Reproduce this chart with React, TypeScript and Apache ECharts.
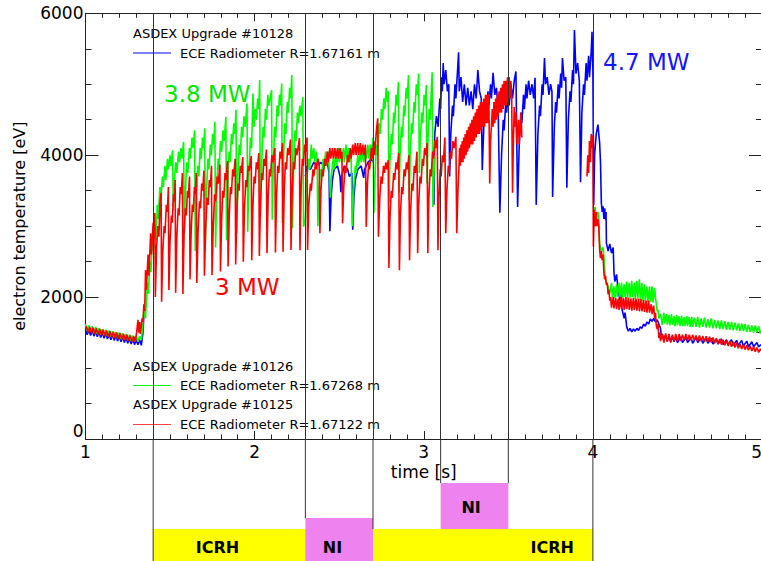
import React, { useEffect, useRef } from "react";
import * as echarts from "echarts";

type Pt = [number, number | string];

// ---------- data ----------
// ASDEX Upgrade #10128 (blue, 4.7 MW phase)
const shot10128: Pt[] = [
  [1.00,1560],[1.01,1470],[1.02,1540],[1.03,1460],[1.04,1530],[1.05,1450],[1.06,1520],[1.07,1440],[1.08,1510],[1.09,1430],
  [1.10,1500],[1.11,1420],[1.12,1490],[1.13,1410],[1.14,1480],[1.15,1400],[1.16,1470],[1.17,1390],[1.18,1460],[1.19,1380],
  [1.20,1450],[1.21,1370],[1.22,1440],[1.23,1360],[1.24,1430],[1.25,1350],[1.26,1420],[1.27,1340],[1.28,1410],[1.29,1330],
  [1.30,1400],[1.31,1330],[1.32,1400],[1.33,1320],[1.34,1500],[1.345,1750],[1.35,"-"],
  [2.30,3700],[2.31,3850],[2.33,3800],[2.35,3900],[2.37,3850],[2.39,3900],[2.41,3850],[2.43,3900],[2.44,3750],[2.445,2930],
  [2.452,3400],[2.46,3650],[2.47,3800],[2.49,3850],[2.505,3700],[2.51,3480],[2.515,3700],[2.53,3850],[2.55,3800],[2.56,3700],
  [2.575,3750],[2.58,2950],[2.587,3400],[2.595,3650],[2.61,3800],[2.63,3850],[2.645,3680],[2.65,3800],[2.67,3900],[2.69,3950],
  [2.70,3900],[2.71,"-"],
  [3.06,3300],[3.065,4300],[3.075,4550],[3.085,4400],[3.095,4800],[3.10,4650],[3.105,5100],[3.11,4900],[3.115,5300],[3.12,5000],
  [3.13,5200],[3.14,4900],[3.148,5000],[3.153,3700],[3.16,4300],[3.17,4700],[3.175,4550],[3.185,5000],[3.19,4800],[3.20,5200],
  [3.206,5450],[3.21,4900],[3.22,5100],[3.23,4750],[3.24,5000],[3.25,4700],[3.26,4950],[3.27,4700],[3.28,4900],[3.29,4650],
  [3.30,5000],[3.31,4800],[3.32,5200],[3.33,4900],[3.34,4800],[3.346,3790],[3.355,4400],[3.365,4750],[3.37,4600],[3.38,4900],
  [3.385,4700],[3.395,5000],[3.40,4800],[3.41,5160],[3.42,4850],[3.43,4950],[3.44,4650],[3.45,3190],[3.46,4000],[3.47,4500],
  [3.475,4350],[3.485,4750],[3.49,4600],[3.50,4900],[3.505,4700],[3.515,5000],[3.525,4800],[3.535,5050],[3.545,5180],[3.555,3270],
  [3.565,4200],[3.575,4600],[3.58,4450],[3.59,4850],[3.595,4650],[3.605,5000],[3.61,4800],[3.62,5050],[3.63,4850],[3.64,5000],
  [3.65,4800],[3.658,5090],[3.665,3300],[3.675,4300],[3.685,4700],[3.69,4550],[3.70,5000],[3.705,4850],[3.714,5370],[3.72,5000],
  [3.73,5100],[3.74,4850],[3.75,5000],[3.758,4900],[3.762,3410],[3.772,4400],[3.78,4750],[3.785,4600],[3.795,5000],[3.80,4800],
  [3.81,5150],[3.815,4950],[3.82,5370],[3.83,5050],[3.84,5100],[3.846,3540],[3.855,4500],[3.865,4900],[3.87,4750],[3.88,5200],
  [3.885,5000],[3.891,5765],[3.90,5150],[3.91,5300],[3.92,5050],[3.927,3620],[3.935,4600],[3.945,5000],[3.95,4850],[3.96,5300],
  [3.965,5050],[3.975,5400],[3.98,5100],[3.99,5450],[3.995,5740],[4.00,5200],
  [4.005,3300],[4.01,4000],[4.02,4300],[4.03,4430],[4.035,4300],[4.04,4170],[4.045,3900],[4.05,3330],[4.055,3200],[4.06,3280],
  [4.065,3100],[4.07,3250],[4.075,3090],[4.078,3200],[4.08,2760],[4.09,2650],[4.10,2750],[4.11,2620],[4.12,2700],[4.125,2340],
  [4.13,2220],[4.14,2320],[4.145,2200],[4.15,2100],[4.16,1950],[4.165,2050],[4.17,1860],[4.175,1800],[4.185,1700],[4.19,1780],
  [4.195,1690],[4.20,1580],[4.21,1520],[4.22,1560],[4.23,1510],[4.24,1550],[4.25,1520],[4.26,1560],[4.27,1530],[4.28,1580],
  [4.29,1560],[4.30,1620],[4.31,1590],[4.32,1650],[4.33,1620],[4.34,1690],[4.35,1660],[4.36,1700],[4.37,1650],[4.38,1680],
  [4.39,1620],[4.40,1560],[4.405,1420],[4.41,1480],[4.42,1400],[4.43,1460],[4.44,1380],[4.45,1450],[4.46,1370],[4.47,1440],
  [4.48,1370],[4.49,1440],[4.50,1360],[4.52,1440],[4.53,1360],[4.55,1430],[4.56,1360],[4.58,1430],[4.59,1350],[4.61,1430],
  [4.62,1360],[4.64,1420],[4.65,1350],[4.67,1420],[4.68,1350],[4.70,1420],[4.71,1340],[4.73,1410],[4.74,1340],[4.76,1410],
  [4.77,1330],[4.79,1400],[4.80,1330],[4.82,1400],[4.83,1320],[4.85,1390],[4.86,1320],[4.88,1390],[4.89,1310],[4.91,1380],
  [4.92,1300],[4.94,1370],[4.95,1300],[4.97,1360],[4.98,1300],[5.00,1340],
];

// ASDEX Upgrade #10126 (green, 3.8 MW)
const shot10126: Pt[] = [
  [1.00,1620],[1.01,1520],[1.02,1600],[1.03,1510],[1.04,1590],[1.05,1490],[1.06,1580],[1.07,1480],[1.08,1560],[1.09,1470],
  [1.10,1550],[1.11,1460],[1.12,1540],[1.13,1450],[1.14,1530],[1.15,1440],[1.16,1520],[1.17,1430],[1.18,1510],[1.19,1420],
  [1.20,1500],[1.21,1410],[1.22,1490],[1.23,1400],[1.24,1480],[1.25,1390],[1.26,1470],[1.27,1380],[1.28,1460],[1.29,1380],
  [1.30,1460],[1.31,1370],[1.32,1450],[1.33,1400],
  [1.335,1500],[1.345,1800],[1.355,1700],[1.365,2200],[1.372,2050],[1.38,2500],[1.387,2350],[1.395,2800],[1.40,2650],[1.41,3000],
  [1.415,2800],[1.425,3300],[1.43,3100],[1.44,3550],[1.445,3350],[1.455,3700],[1.46,3550],[1.47,3850],[1.475,3650],[1.485,3950],
  [1.49,3800],[1.50,4000],[1.505,3850],[1.515,4070],
  [1.519,3230],[1.526,3650],[1.534,3900],[1.54,3750],[1.55,4050],[1.556,3900],[1.565,4100],[1.57,3950],[1.58,4190],
  [1.584,2900],[1.591,3500],[1.599,3900],[1.605,3750],[1.614,4100],[1.62,3950],[1.63,4250],[1.636,4100],[1.645,4350],
  [1.649,2650],[1.656,3400],[1.664,3850],[1.67,3700],[1.678,4100],[1.684,3950],[1.692,4250],[1.698,4100],[1.705,4380],
  [1.709,2800],[1.716,3500],[1.724,3950],[1.73,3800],[1.738,4150],[1.744,4000],[1.752,4300],[1.758,4150],[1.765,4470],
  [1.769,2700],[1.776,3500],[1.784,3950],[1.79,3800],[1.798,4200],[1.805,4050],[1.813,4350],[1.82,4200],[1.83,4540],
  [1.834,2800],[1.841,3600],[1.849,4050],[1.855,3900],[1.863,4300],[1.869,4150],[1.877,4450],[1.883,4300],[1.89,4640],
  [1.894,2900],[1.901,3700],[1.909,4150],[1.915,4000],[1.923,4400],[1.929,4250],[1.937,4550],[1.944,4400],[1.955,4730],
  [1.959,2920],[1.967,3750],[1.975,4250],[1.982,4100],[1.99,4870],[1.996,4400],[2.004,4650],[2.01,4500],[2.018,4800],[2.024,4650],[2.03,5060],
  [2.034,3130],[2.042,3900],[2.05,4400],[2.056,4250],[2.064,4650],[2.07,4500],[2.078,4850],[2.084,4700],[2.092,4800],[2.10,4920],
  [2.104,3090],[2.111,3900],[2.119,4400],[2.125,4250],[2.133,4700],[2.14,4550],[2.147,4850],[2.153,4700],[2.16,5010],
  [2.164,3040],[2.171,3950],[2.179,4450],[2.185,4300],[2.193,4750],[2.199,4600],[2.207,4950],[2.213,4800],[2.22,5130],
  [2.224,2970],[2.231,3900],[2.239,4350],[2.245,4200],[2.253,4600],[2.259,4450],[2.267,4700],[2.274,4550],[2.285,4820],
  [2.289,2990],
  [2.30,3100],[2.31,3700],[2.32,3950],[2.325,3800],[2.335,4150],[2.34,3950],[2.35,4100],[2.355,3900],[2.365,4050],[2.37,3850],
  [2.374,3000],[2.38,3500],[2.39,3800],[2.395,3700],[2.405,3950],[2.41,3800],[2.42,4050],[2.425,3850],[2.435,4050],[2.44,3850],
  [2.448,3400],[2.455,3750],[2.465,3950],[2.47,3800],[2.48,4050],[2.485,3850],[2.495,4100],[2.50,3900],[2.51,4100],[2.515,3900],
  [2.525,4100],[2.53,3900],[2.54,4150],[2.545,3950],[2.555,4100],[2.56,3900],[2.57,4050],[2.578,3000],[2.585,3500],[2.595,3850],
  [2.60,3750],[2.61,4000],[2.615,3850],[2.625,4050],[2.63,3900],[2.64,4100],[2.645,3900],[2.655,4100],[2.66,3950],[2.67,4150],
  [2.675,3950],[2.685,4150],[2.69,4000],[2.70,4250],
  [2.705,3185],[2.712,3700],[2.72,4150],[2.728,4000],[2.736,4450],[2.742,4300],[2.75,4650],[2.756,4500],[2.764,4800],[2.77,4650],
  [2.778,4950],[2.785,4750],[2.79,4900],
  [2.794,3330],[2.80,3900],[2.808,4300],[2.814,4150],[2.822,4600],[2.828,4450],[2.836,4850],[2.842,4700],[2.85,5035],
  [2.854,3470],[2.86,4000],[2.868,4400],[2.874,4250],[2.882,4700],[2.888,4550],[2.896,4950],[2.902,4800],[2.91,5130],
  [2.914,3370],[2.92,4000],[2.928,4450],[2.934,4300],[2.942,4750],[2.948,4600],[2.956,5000],[2.962,4850],[2.97,5150],
  [2.974,3750],[2.98,4250],[2.988,4600],[2.994,4450],[3.002,4850],[3.008,4700],[3.015,4990],
  [3.019,3600],[3.025,4200],[3.032,4650],[3.038,4500],[3.046,5000],[3.05,5170],
  [3.054,3270],[3.06,3700],[3.066,4000],[3.07,"-"],
  [4.005,3100],[4.012,3270],[4.02,3150],[4.03,3200],[4.035,3090],[4.04,2760],[4.05,2650],[4.06,2700],[4.065,2570],[4.07,2380],
  [4.075,2250],[4.08,2200],[4.09,2150],[4.10,2050],[4.11,2200],[4.115,2000],[4.125,2150],[4.13,1980],[4.14,2180],[4.145,2000],
  [4.155,2200],[4.16,2000],[4.17,2200],[4.175,1990],[4.185,2180],[4.19,2000],[4.20,2220],[4.205,1980],[4.215,2200],[4.22,1990],
  [4.23,2230],[4.235,2000],[4.245,2200],[4.25,1970],[4.26,2230],[4.265,1980],[4.275,2250],[4.28,1960],[4.29,2200],[4.295,1950],
  [4.305,2180],[4.31,1950],[4.32,2150],[4.325,1930],[4.335,2150],[4.34,1930],[4.35,2150],[4.355,1920],[4.365,2130],[4.37,2000],
  [4.38,1800],[4.385,1820],[4.39,1700],
  [4.40,1760],[4.41,1610],[4.42,1780],[4.425,1630],[4.435,1760],[4.44,1610],[4.45,1750],[4.455,1600],[4.465,1760],[4.47,1610],
  [4.48,1730],[4.485,1590],[4.495,1750],[4.50,1600],[4.51,1730],[4.515,1590],[4.525,1740],[4.53,1590],[4.54,1720],[4.545,1590],
  [4.555,1730],[4.56,1590],[4.57,1720],[4.575,1580],[4.585,1720],[4.59,1580],[4.60,1710],[4.61,1580],[4.62,1720],[4.63,1570],
  [4.64,1700],[4.65,1580],[4.66,1710],[4.67,1570],[4.68,1690],[4.69,1570],[4.70,1700],[4.71,1560],[4.72,1680],[4.73,1560],
  [4.74,1670],[4.75,1550],[4.76,1670],[4.77,1550],[4.78,1660],[4.79,1540],[4.80,1650],[4.81,1540],[4.82,1650],[4.83,1530],
  [4.84,1640],[4.85,1530],[4.86,1630],[4.87,1520],[4.88,1630],[4.89,1520],[4.90,1620],[4.91,1510],[4.92,1610],[4.93,1510],
  [4.94,1600],[4.95,1500],[4.96,1600],[4.97,1500],[4.98,1590],[4.99,1490],[5.00,1540],
];

// ASDEX Upgrade #10125 (red, 3 MW)
const shot10125: Pt[] = [
  [1.005,1590],[1.015,1500],[1.025,1580],[1.035,1490],[1.045,1570],[1.055,1480],[1.065,1560],[1.075,1470],[1.085,1550],[1.095,1460],
  [1.105,1540],[1.115,1450],[1.125,1530],[1.135,1440],[1.145,1520],[1.155,1430],[1.165,1510],[1.175,1420],[1.185,1500],[1.195,1410],
  [1.205,1490],[1.215,1400],[1.225,1480],[1.235,1390],[1.245,1470],[1.255,1380],[1.265,1460],[1.275,1370],[1.285,1450],[1.295,1370],
  [1.305,1560],[1.31,1680],[1.315,1500],[1.32,1650],[1.325,1480],[1.33,1600],[1.335,1700],[1.34,1650],[1.345,1900],[1.35,1800],
  [1.355,2380],[1.36,2100],[1.37,2600],[1.375,2300],[1.385,2900],[1.39,2600],[1.40,3050],[1.405,2900],[1.41,3185],
  [1.413,2000],[1.42,2700],[1.428,3000],[1.434,2850],[1.44,3300],[1.447,3470],
  [1.45,1935],[1.457,2650],[1.465,3000],[1.47,2900],[1.478,3300],[1.484,3200],[1.49,3550],
  [1.493,2100],[1.50,2800],[1.508,3150],[1.513,3050],[1.52,3450],[1.525,3350],[1.53,3650],
  [1.533,2060],[1.54,2850],[1.548,3250],[1.553,3150],[1.56,3550],[1.566,3450],[1.573,3750],
  [1.576,2045],[1.583,2900],[1.59,3250],[1.596,3150],[1.603,3500],[1.608,3400],[1.615,3700],
  [1.618,2250],[1.625,2950],[1.632,3300],[1.637,3200],[1.644,3550],[1.649,3450],[1.655,3750],
  [1.658,2200],[1.666,2950],[1.674,3350],[1.68,3250],[1.687,3600],[1.693,3500],[1.70,3780],
  [1.703,2300],[1.711,3000],[1.719,3400],[1.725,3300],[1.732,3650],[1.738,3550],[1.745,3850],
  [1.748,2310],[1.756,3050],[1.764,3450],[1.77,3350],[1.778,3700],[1.785,3600],[1.795,3870],
  [1.798,2360],[1.805,3100],[1.812,3500],[1.818,3400],[1.825,3750],[1.831,3650],[1.84,3920],
  [1.843,2430],[1.85,3150],[1.857,3550],[1.863,3450],[1.87,3800],[1.876,3700],[1.885,3950],
  [1.888,2460],[1.895,3200],[1.902,3600],[1.908,3500],[1.915,3850],[1.921,3750],[1.93,3975],
  [1.933,2500],[1.94,3250],[1.948,3650],[1.954,3550],[1.962,3850],[1.968,3780],[1.98,3990],
  [1.983,2520],[1.99,3300],[1.997,3700],[2.003,3600],[2.01,3900],[2.016,3800],[2.025,4030],
  [2.028,2580],[2.035,3350],[2.042,3750],[2.048,3650],[2.055,3950],[2.061,3850],[2.07,4080],
  [2.073,2620],[2.08,3400],[2.088,3800],[2.094,3700],[2.102,4000],[2.108,3900],[2.12,4100],
  [2.123,2630],[2.13,3450],[2.137,3850],[2.143,3750],[2.15,4050],[2.156,3950],[2.165,4170],
  [2.168,2640],[2.175,3500],[2.182,3900],[2.188,3800],[2.195,4100],[2.201,4000],[2.212,4220],
  [2.215,2665],[2.222,3500],[2.23,3900],[2.236,3800],[2.244,4100],[2.25,4000],[2.265,4240],
  [2.268,2660],[2.275,3550],[2.282,3950],[2.288,3850],[2.296,4150],[2.302,4050],[2.31,4250],
  [2.313,2665],[2.32,3300],[2.33,3600],[2.335,3500],[2.345,3800],[2.35,3700],[2.36,3900],[2.365,3800],[2.375,3950],[2.382,3850],
  [2.386,2900],[2.392,3500],[2.40,3800],[2.405,3700],[2.415,3950],[2.42,3850],[2.43,4050],[2.435,3900],[2.445,4100],[2.45,3950],
  [2.46,4100],[2.465,3950],[2.475,4100],[2.48,3950],[2.49,4100],[2.495,3950],[2.505,4100],[2.51,3950],[2.516,4050],[2.52,3040],
  [2.527,3550],[2.535,3850],[2.54,3750],[2.55,4000],[2.555,3900],[2.565,4100],[2.57,3950],[2.58,4150],[2.585,4000],[2.595,4170],
  [2.60,4000],[2.61,4170],[2.615,4000],[2.625,4170],[2.63,4000],[2.64,4150],[2.645,4000],[2.655,4150],[2.66,2990],[2.667,3600],
  [2.675,3900],[2.68,3800],[2.69,4100],[2.695,3950],[2.705,4200],[2.71,4000],[2.72,4350],[2.728,4520],
  [2.732,2850],[2.74,3400],[2.748,3700],[2.754,3600],[2.762,3850],[2.768,3750],[2.776,3900],[2.782,3800],[2.79,3930],
  [2.794,2410],[2.80,3100],[2.808,3500],[2.814,3400],[2.822,3750],[2.828,3650],[2.836,3900],[2.842,3800],[2.852,4030],
  [2.856,2380],[2.862,3150],[2.87,3550],[2.876,3450],[2.884,3800],[2.89,3700],[2.898,3900],[2.904,3800],[2.912,4000],
  [2.916,2520],[2.922,3200],[2.93,3600],[2.936,3500],[2.944,3850],[2.95,3750],[2.96,4050],
  [2.964,2620],[2.97,3300],[2.978,3700],[2.984,3600],[2.992,3950],[2.998,3850],[3.005,4100],[3.012,4000],[3.02,4170],
  [3.024,2620],[3.03,3400],[3.038,3800],[3.044,3700],[3.052,4050],[3.058,3950],[3.066,4210],[3.072,4100],[3.08,4260],
  [3.084,2660],[3.09,3400],[3.097,3800],[3.103,3700],[3.11,4000],[3.116,3900],[3.125,4250],
  [3.13,2900],[3.137,3500],[3.145,3850],[3.15,3750],[3.158,4050],[3.164,3950],[3.172,4200],[3.18,4100],[3.19,4260],
  [3.195,2900],[3.202,3500],[3.208,3800],[3.212,4100],[3.216,3850],[3.22,4150],[3.224,3900],[3.228,4200],[3.232,3900],[3.236,4250],
  [3.24,3950],[3.245,4300],[3.25,4000],[3.255,4350],[3.26,4050],[3.265,4400],[3.27,4100],[3.275,4450],[3.28,4150],[3.285,4500],
  [3.29,4150],[3.295,4550],[3.30,4200],[3.305,4600],[3.31,4250],[3.315,4650],[3.32,4300],[3.325,4700],[3.33,4300],[3.335,4750],
  [3.34,4350],[3.345,4750],[3.35,4400],[3.355,4800],[3.36,4400],[3.365,4850],[3.37,4450],[3.375,4850],[3.38,4450],[3.385,4870],
  [3.39,3600],[3.395,4200],[3.40,4400],[3.405,4650],[3.41,4400],[3.415,4750],[3.42,4450],[3.425,4800],[3.43,4500],[3.435,4850],
  [3.44,4550],[3.445,4900],[3.45,4600],[3.455,4950],[3.46,4600],[3.465,5000],[3.47,4650],[3.475,5050],[3.48,4700],[3.485,5050],
  [3.49,4700],[3.495,5100],[3.50,4750],[3.505,5100],[3.51,4800],[3.515,5050],[3.52,4800],[3.525,3470],[3.53,4200],[3.535,4680],
  [3.54,4400],[3.545,4600],[3.55,4150],[3.56,4500],[3.565,4150],[3.575,4600],[3.58,4250],[3.59,"-"],
  [3.965,3700],[3.97,4000],[3.975,3750],[3.98,4200],[3.985,3900],[3.99,4300],[3.995,4100],[4.00,4280],[4.003,2710],[4.008,3230],
  [4.015,3000],[4.02,3200],[4.025,3000],[4.03,3100],[4.035,2990],[4.04,2660],[4.045,2550],[4.05,2650],[4.055,2520],[4.06,2600],
  [4.065,2340],[4.07,2250],[4.075,2300],[4.08,2170],[4.085,2200],[4.09,2040],[4.095,2100],[4.10,1950],
  [4.105,2000],[4.11,1850],[4.12,2000],[4.125,1840],[4.135,1990],[4.14,1830],[4.15,1980],[4.155,1820],[4.165,2000],[4.17,1830],
  [4.18,1990],[4.185,1820],[4.195,2000],[4.20,1830],[4.21,1990],[4.215,1820],[4.225,1980],[4.23,1810],[4.24,1990],[4.245,1820],
  [4.255,1980],[4.26,1810],[4.27,1980],[4.275,1800],[4.285,1970],[4.29,1800],[4.30,1960],[4.305,1790],[4.315,1950],[4.32,1780],
  [4.33,1950],[4.335,1780],[4.345,1900],[4.35,1760],[4.36,1880],[4.365,1700],[4.37,1780],[4.375,1600],[4.38,1550],[4.385,1620],
  [4.39,1420],[4.395,1500],[4.40,1380],
  [4.41,1480],[4.42,1360],[4.43,1490],[4.44,1370],[4.45,1480],[4.46,1360],[4.47,1470],[4.48,1370],[4.49,1480],[4.50,1380],
  [4.51,1480],[4.52,1380],[4.53,1470],[4.54,1390],[4.55,1480],[4.56,1390],[4.57,1470],[4.58,1390],[4.59,1470],[4.60,1390],
  [4.61,1460],[4.62,1380],[4.63,1460],[4.64,1380],[4.65,1450],[4.66,1370],[4.67,1450],[4.68,1370],[4.69,1440],[4.70,1360],
  [4.71,1430],[4.72,1350],[4.73,1420],[4.74,1340],[4.75,1410],[4.76,1330],[4.77,1400],[4.78,1320],[4.79,1390],[4.80,1310],
  [4.81,1380],[4.82,1300],[4.83,1370],[4.84,1290],[4.85,1360],[4.86,1280],[4.87,1340],[4.88,1270],[4.89,1330],[4.90,1260],
  [4.91,1320],[4.92,1250],[4.93,1310],[4.94,1240],[4.95,1300],[4.96,1230],[4.97,1290],[4.98,1220],[4.99,1270],[5.00,1230],
];

// heating phase boundaries [s]
const phaseTimes = [1.4, 2.3, 2.7, 3.1, 3.5, 4.0];
// heating schedule (time spans)
const heatingNames = ["ICRH", "NI", "NI"];
const heatingStart = [1.4, 2.3, 3.1];
const heatingEnd = [4.0, 2.7, 3.5];
const heatingLabelText = ["ICRH", "NI", "NI", "ICRH"];
const heatingLabelTime = [1.78, 2.46, 3.28, 3.76];

// ---------- layout / style ----------
const FONT = "DejaVu Sans";
const GRID_LEFT = 85.5;
const GRID_WIDTH = 676.5;
const LOWER_H = 122; // px height of the schedule strip
const boxLevels = [[0, 32], [0, 43], [32, 78]];
const boxColors = ["#ffff00", "#ee82ee", "#ee82ee"];
const labelLevels = [13.5, 13.5, 54, 13.5];
const lineBottoms = [0, 43, 32, 78, 78, 0];
const AX = "#222";

function makeOption(): any {
  const axisCommon = {
    type: "value",
    axisLine: { show: true, onZero: false, lineStyle: { color: AX, width: 1 } },
    splitLine: { show: false },
    minorSplitLine: { show: false },
  };
  const xBase = {
    ...axisCommon,
    gridIndex: 0,
    min: 1,
    max: 5,
    interval: 1,
    axisTick: { show: true, inside: true, length: 8, lineStyle: { color: AX } },
    minorTick: { show: true, splitNumber: 10, length: 4.5, lineStyle: { color: AX } },
  };
  const yBase = {
    ...axisCommon,
    gridIndex: 0,
    min: 0,
    max: 6000,
    interval: 2000,
    axisTick: { show: true, inside: true, length: 13, lineStyle: { color: AX } },
    minorTick: { show: true, splitNumber: 4, length: 6, lineStyle: { color: AX } },
  };
  const lineSeries = (name: string, data: Pt[], color: string, extra: any = {}) => ({
    name,
    type: "line",
    xAxisIndex: 0,
    yAxisIndex: 0,
    data,
    showSymbol: false,
    symbol: "none",
    connectNulls: false,
    lineStyle: { color, width: 1.6 },
    itemStyle: { color },
    emphasis: { disabled: true },
    ...extra,
  });

  const txt = (text: string, x: number, y: number, size: number, color: string) => ({
    type: "text",
    x,
    y,
    silent: true,
    style: { text, fill: color, fontSize: size, fontFamily: FONT, verticalAlign: "middle", align: "left" },
  });
  const seg = (x1: number, x2: number, y: number, color: string) => ({
    type: "line",
    silent: true,
    shape: { x1, y1: y, x2, y2: y },
    style: { stroke: color, lineWidth: 1 },
  });

  return {
    animation: false,
    backgroundColor: "#fff",
    textStyle: { fontFamily: FONT },
    grid: [
      { left: GRID_LEFT, width: GRID_WIDTH, top: 13.3, height: 425.7, outerBoundsMode: "none", containLabel: false },
      { left: GRID_LEFT, width: GRID_WIDTH, top: 439, height: LOWER_H, outerBoundsMode: "none", containLabel: false },
    ],
    xAxis: [
      {
        ...xBase,
        position: "bottom",
        axisLabel: { fontFamily: FONT, fontSize: 17, color: "#000", margin: 4, alignMaxLabel: "right" },
        name: "time [s]",
        nameLocation: "middle",
        nameGap: 24,
        nameMoveOverlap: false,
        nameTextStyle: { fontFamily: FONT, fontSize: 17, color: "#000" },
      },
      { ...xBase, position: "top", axisLabel: { show: false } },
      { type: "value", gridIndex: 1, min: 1, max: 5, show: false },
    ],
    yAxis: [
      {
        ...yBase,
        position: "left",
        axisLabel: {
          fontFamily: FONT,
          fontSize: 17,
          color: "#000",
          margin: 2,
          verticalAlignMinLabel: "bottom",
          formatter: (v: number) => String(v),
        },
        name: "electron temperature [eV]",
        nameLocation: "middle",
        nameGap: 58,
        nameMoveOverlap: false,
        nameRotate: 90,
        nameTextStyle: { fontFamily: FONT, fontSize: 16, color: "#000" },
      },
      { ...yBase, position: "right", axisLabel: { show: false } },
      { type: "value", gridIndex: 1, min: 0, max: LOWER_H, show: false },
    ],
    series: [
      lineSeries("#10128", shot10128, "#0000ff", { z: 2 }),
      lineSeries("#10126", shot10126, "#00ff00", { z: 3 }),
      lineSeries("#10125", shot10125, "#ff0000", {
        z: 4,
        markLine: {
          silent: true,
          symbol: ["none", "none"],
          label: { show: false },
          lineStyle: { color: "#333", width: 1, type: "solid" },
          emphasis: { disabled: true },
          data: phaseTimes.map((t) => ({ xAxis: t })),
        },
      }),
      {
        type: "custom",
        name: "heating",
        xAxisIndex: 2,
        yAxisIndex: 2,
        clip: false,
        silent: true,
        z: 1,
        data: heatingNames.map((_, i) => [heatingStart[i], heatingEnd[i], boxLevels[i][0], boxLevels[i][1]]),
        encode: { x: [0, 1], y: [2, 3] },
        renderItem: (params: any, api: any) => {
          const p0 = api.coord([api.value(0), api.value(3)]);
          const p1 = api.coord([api.value(1), api.value(2)]);
          return {
            type: "rect",
            shape: { x: p0[0], y: p0[1], width: p1[0] - p0[0], height: p1[1] - p0[1] },
            style: { fill: boxColors[params.dataIndex] },
          };
        },
      },
      {
        type: "custom",
        name: "phase lines",
        xAxisIndex: 2,
        yAxisIndex: 2,
        clip: false,
        silent: true,
        z: 2,
        data: phaseTimes.map((t, i) => [t, lineBottoms[i], LOWER_H]),
        encode: { x: 0, y: [1, 2] },
        renderItem: (params: any, api: any) => {
          const a = api.coord([api.value(0), api.value(1)]);
          const b = api.coord([api.value(0), api.value(2)]);
          return {
            type: "line",
            shape: { x1: a[0], y1: a[1], x2: b[0], y2: b[1] },
            style: { stroke: "#333", lineWidth: 1 },
          };
        },
      },
      {
        type: "custom",
        name: "heating labels",
        xAxisIndex: 2,
        yAxisIndex: 2,
        clip: false,
        silent: true,
        z: 3,
        data: heatingLabelTime.map((t, i) => [t, labelLevels[i]]),
        encode: { x: 0, y: 1 },
        renderItem: (params: any, api: any) => {
          const p = api.coord([api.value(0), api.value(1)]);
          return {
            type: "text",
            x: p[0],
            y: p[1],
            style: {
              text: heatingLabelText[params.dataIndex],
              fill: "#000",
              fontSize: 16,
              fontWeight: "bold",
              fontFamily: FONT,
              align: "center",
              verticalAlign: "middle",
            },
          };
        },
      },
    ],
    graphic: [
      txt("ASDEX Upgrade #10128", 133, 33, 13, "#000"),
      seg(133, 171, 53, "#0000ff"),
      txt("ECE Radiometer R=1.67161 m", 180, 53, 13, "#000"),
      txt("ASDEX Upgrade #10126", 133, 366, 13, "#000"),
      seg(133, 171, 385.5, "#00ff00"),
      txt("ECE Radiometer R=1.67268 m", 180, 385.5, 13, "#000"),
      txt("ASDEX Upgrade #10125", 133, 404, 13, "#000"),
      seg(133, 171, 424.5, "#ff4040"),
      txt("ECE Radiometer R=1.67122 m", 180, 424.5, 13, "#000"),
      txt("3.8 MW", 164, 94, 23, "#00e600"),
      txt("3 MW", 215, 287, 23, "#ff0000"),
      txt("4.7 MW", 603, 62, 23, "#1414ff"),
    ],
  };
}

export default function App() {
  const ref = useRef<HTMLDivElement>(null);
  useEffect(() => {
    if (!ref.current) return;
    const chart = echarts.init(ref.current, null, { renderer: "svg" });
    chart.setOption(makeOption());
    return () => chart.dispose();
  }, []);
  return (
    <div
      ref={ref}
      style={{ position: "fixed", left: 0, top: 0, width: 761, height: 561, background: "#fff" }}
    />
  );
}
